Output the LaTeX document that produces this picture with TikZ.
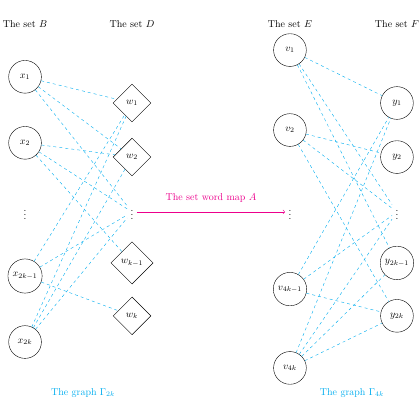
\documentclass[tikz,border=0pt]{standalone}
\usepackage{tikz}
\usetikzlibrary{shapes.geometric}

\begin{document}
\begin{tikzpicture}[auto,
    vert/.style={circle,draw,minimum size=1.15cm},
    word/.style={diamond,draw,minimum size=1.33cm},
    gedge/.style={cyan,dashed}]
    \useasboundingbox (0,0) rectangle (14.76,14.76);
    % titles of the four sets
    \node (titleB) at (0.88,13.92) {The set $B$};
    \node (titleD) at (4.64,13.92) {The set $D$};
    \node (titleE) at (10.19,13.92) {The set $E$};
    \node (titleF) at (13.95,13.92) {The set $F$};
    % the graph Gamma_{2k}
    \node (x1)    at (0.88,12.06) [vert] {$x_1$};
    \node (x2)    at (0.88,9.74)  [vert] {$x_2$};
    \node (xdots) at (0.88,7.31)  {$\vdots$};
    \node (x2k1)  at (0.88,5.06)  [vert] {$x_{2k-1}$};
    \node (x2k)   at (0.88,2.74)  [vert] {$x_{2k}$};
    \node (w1)    at (4.64,11.14) [word] {$w_1$};
    \node (w2)    at (4.64,9.24)  [word] {$w_2$};
    \node (wdots) at (4.64,7.31)  {$\vdots$};
    \node (wk1)   at (4.64,5.52)  [word] {$w_{k-1}$};
    \node (wk)    at (4.64,3.66)  [word] {$w_k$};
    \draw[gedge] (x1)   to (w1);
    \draw[gedge] (x1)   to (w2);
    \draw[gedge] (x1)   to (wdots);
    \draw[gedge] (x2)   to (w2);
    \draw[gedge] (x2)   to (wdots);
    \draw[gedge] (x2)   to (wk1);
    \draw[gedge] (x2k1) to (w1);
    \draw[gedge] (x2k1) to (wdots);
    \draw[gedge] (x2k1) to (wk);
    \draw[gedge] (x2k)  to (w1);
    \draw[gedge] (x2k)  to (w2);
    \draw[gedge] (x2k)  to (wdots);
    \node[cyan] (gamma2k) at (2.92,0.95) {The graph $\Gamma_{2k}$};
    % the graph Gamma_{4k}
    \node (v1)    at (10.19,13.00) [vert] {$v_1$};
    \node (v2)    at (10.19,10.19) [vert] {$v_2$};
    \node (vdotsE) at (10.19,7.31) {$\vdots$};
    \node (v4k1)  at (10.19,4.60)  [vert] {$v_{4k-1}$};
    \node (v4k)   at (10.19,1.83)  [vert] {$v_{4k}$};
    \node (y1)    at (13.95,11.14) [vert] {$y_1$};
    \node (y2)    at (13.95,9.24)  [vert] {$y_2$};
    \node (ydots) at (13.95,7.31)  {$\vdots$};
    \node (y2k1)  at (13.95,5.52)  [vert] {$y_{2k-1}$};
    \node (y2k)   at (13.95,3.66)  [vert] {$y_{2k}$};
    \draw[gedge] (v1)   to (y1);
    \draw[gedge] (v1)   to (ydots);
    \draw[gedge] (v1)   to (y2k1);
    \draw[gedge] (v2)   to (y2);
    \draw[gedge] (v2)   to (ydots);
    \draw[gedge] (v2)   to (y2k);
    \draw[gedge] (v4k1) to (y1);
    \draw[gedge] (v4k1) to (ydots);
    \draw[gedge] (v4k1) to (y2k);
    \draw[gedge] (v4k)  to (y1);
    \draw[gedge] (v4k)  to (ydots);
    \draw[gedge] (v4k)  to (y2k1);
    \draw[gedge] (v4k)  to (y2k);
    \node[cyan] (gamma4k) at (12.37,0.95) {The graph $\Gamma_{4k}$};
    % the word map
    \draw[->,magenta,semithick] (wdots) to node[above=6pt] {The set word map $A$} (vdotsE);
\end{tikzpicture}
\end{document}
